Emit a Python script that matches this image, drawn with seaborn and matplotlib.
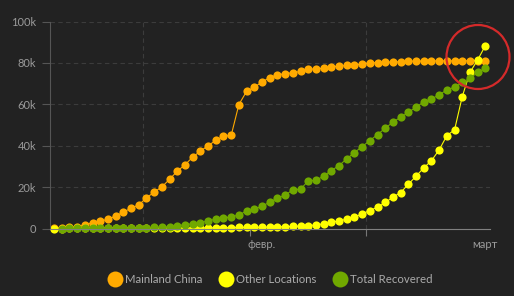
import pandas as pd
import matplotlib.pyplot as plt
from matplotlib.lines import Line2D
from matplotlib.patches import Ellipse
import seaborn as sns

# daily points, 20 Jan - 16 Mar 2020 (values in thousands)
dates = pd.date_range("2020-01-20 12:00", periods=57, freq="D")

mainland_china = [
    0.3, 0.4, 0.5, 0.9, 1.8, 2.8, 3.5, 4.5, 6.0, 7.9,
    9.8, 11.4, 14.8, 17.6, 20.1, 23.8, 27.7, 30.8, 34.5, 37.4,
    40.0, 42.6, 44.6, 45.0, 59.9, 66.3, 68.3, 70.8, 72.9, 74.3,
    74.8, 75.3, 75.9, 77.0, 77.1, 77.5, 78.1, 78.5, 78.8, 79.1,
    79.5, 80.0, 80.2, 80.4, 80.5, 80.6, 80.8, 80.9, 80.9, 81.0,
    81.0, 81.0, 81.0, 81.0, 81.1, 81.1, 81.1,
]
other_locations = [
    0.0, 0.0, 0.01, 0.01, 0.02, 0.03, 0.04, 0.05, 0.06, 0.08,
    0.1, 0.11, 0.15, 0.15, 0.17, 0.18, 0.2, 0.23, 0.27, 0.3,
    0.33, 0.38, 0.4, 0.45, 0.5, 0.52, 0.58, 0.64, 0.7, 0.8,
    0.9, 1.0, 1.2, 1.4, 1.7, 2.3, 3.0, 3.7, 4.5, 5.5,
    7.1, 8.7, 10.3, 12.6, 15.1, 17.4, 21.4, 25.3, 29.3, 32.8,
    38.0, 44.9, 47.7, 63.8, 75.5, 81.5, 88.4,
]
total_recovered = [
    None, 0.0, 0.03, 0.03, 0.04, 0.04, 0.05, 0.06, 0.1, 0.13,
    0.14, 0.2, 0.28, 0.5, 0.63, 0.9, 1.4, 1.8, 2.3, 2.8,
    3.7, 4.5, 5.2, 5.5, 6.6, 8.4, 9.3, 10.8, 12.7, 14.6,
    16.1, 18.7, 19.0, 23.0, 23.3, 25.3, 28.0, 30.4, 33.7, 36.7,
    39.6, 42.5, 45.4, 48.5, 51.4, 53.8, 56.2, 58.6, 61.2, 62.6,
    64.6, 67.0, 68.3, 70.7, 72.6, 75.5, 77.4,
]

series_names = ["Mainland China", "Other Locations", "Total Recovered"]
series_colors = ["#ffaa00", "#ffff00", "#70a800"]
month_labels = ["февр.", "март"]

BG = "#222222"
TXT = "#9a9a9a"

sns.set_style("dark", {"axes.facecolor": BG, "figure.facecolor": BG})
plt.rcParams["font.family"] = ["Lato", "DejaVu Sans"]

df = pd.DataFrame({
    "date": list(dates) * 3,
    "value": mainland_china + other_locations + total_recovered,
    "series": sum([[n] * len(dates) for n in series_names], []),
}).dropna()

fig = plt.figure(figsize=(5.14, 2.96), dpi=100)
ax = fig.add_axes([50 / 514, 0.228, 440 / 514, 0.699])

# dashed grid first so the series sit on top
for v in [20, 40, 60, 80, 100]:
    ax.axhline(v, color="#3c3c3c", lw=0.8, ls=(0, (4, 3)), zorder=0)
for d in ["2020-02-01", "2020-03-01"]:
    ax.axvline(pd.Timestamp(d), color="#3c3c3c", lw=0.8, ls=(0, (4, 3)), zorder=0)

sns.lineplot(data=df, x="date", y="value", hue="series", hue_order=series_names,
             palette=series_colors, marker="o", markersize=5.9, markeredgewidth=0,
             linewidth=0.8, legend=False, clip_on=False, ax=ax)

ax.set_xlim(dates[0] - pd.Timedelta(hours=12.5), dates[0] + pd.Timedelta(days=56.6))
ax.set_ylim(0, 100)
ax.set_yticks([0, 20, 40, 60, 80, 100])
ax.yaxis.set_major_formatter(plt.FuncFormatter(lambda v, _: "0" if v == 0 else f"{v:.0f}k"))
ax.set_xticks([pd.Timestamp("2020-02-15"), pd.Timestamp("2020-03-01")])
ax.xaxis.set_major_formatter(plt.NullFormatter())
ax.set_xlabel("")
ax.set_ylabel("")
ax.grid(False)

ax.tick_params(axis="y", colors="#555555", labelcolor=TXT, labelsize=8, length=6, width=0.8, pad=4, left=True)
ax.tick_params(axis="x", colors="#777777", length=5, width=0.8, bottom=True)
for side in ["top", "right"]:
    ax.spines[side].set_visible(False)
ax.spines["left"].set_color("#555555")
ax.spines["left"].set_linewidth(0.8)
ax.spines["bottom"].set_color("#808080")
ax.spines["bottom"].set_linewidth(0.8)

# month labels under the axis
trans = ax.get_xaxis_transform()
ax.text(pd.Timestamp("2020-02-16 12:00"), -0.075, month_labels[0], transform=trans,
        ha="center", va="center", color=TXT, fontsize=8)
ax.text(pd.Timestamp("2020-03-16 12:00"), -0.075, month_labels[1], transform=trans,
        ha="center", va="center", color=TXT, fontsize=8)

# red highlight circle
fig.patches.append(Ellipse((478 / 514, 1 - 57 / 296), 63 / 514, 64 / 296,
                           transform=fig.transFigure, fill=False,
                           edgecolor="#d42a2a", lw=1.6))

handles = [Line2D([], [], ls="none", marker="o", markersize=11.5, markeredgewidth=0,
                  color=c) for c in series_colors]
fig.legend(handles, series_names, loc="center", bbox_to_anchor=(0.527, 0.057), ncol=3,
           frameon=False, fontsize=8.2, labelcolor="#aaaaaa", handlelength=1.0,
           handletextpad=0.35, columnspacing=1.6)

fig.savefig("out.png", dpi=100, facecolor=BG)
